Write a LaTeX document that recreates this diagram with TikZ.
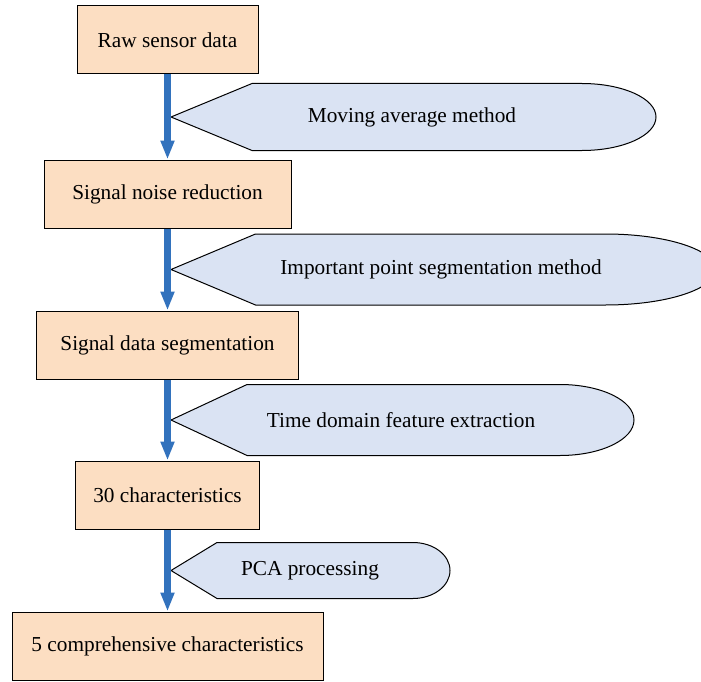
\documentclass[tikz,border=0pt]{standalone}
\usepackage{fontspec}
\setmainfont{Liberation Serif}
\usetikzlibrary{positioning, arrows.meta, calc}
\definecolor{boxfill}{RGB}{252,222,194}
\definecolor{notefill}{RGB}{218,227,243}
\definecolor{flowblue}{RGB}{50,114,189}

\begin{document}
\begin{tikzpicture}[
    x=1pt, y=-1pt,
    font=\fontsize{21.3}{25}\selectfont,
    stage/.style={draw, line width=1pt, fill=boxfill, rectangle, minimum height=68pt, inner sep=0pt},
    note/.style={draw, line width=1pt, fill=notefill, line join=miter},
    arr/.style={-{Triangle[length=19pt, width=13pt]}, line width=6.5pt, flowblue}
]
    \useasboundingbox (0,0) rectangle (701,682);

    \node[stage, minimum width=181pt] (raw) at (167.5,40) {Raw sensor data};
    \node[stage, minimum width=247pt] (noise) [below=85pt of raw] {Signal noise reduction};
    \node[stage, minimum width=262pt] (seg) [below=82pt of noise] {Signal data segmentation};
    \node[stage, minimum width=184pt] (feat) [below=81pt of seg] {30 characteristics};
    \node[stage, minimum width=311pt] (comp) [below=82pt of feat] {5 comprehensive characteristics};

    % side notes, tips touch the arrows
    \coordinate (t1) at ($($(raw.south)!0.5!(noise.north)$)+(3.5,0)$);
    \coordinate (t2) at ($($(noise.south)!0.5!(seg.north)$)+(3.5,0)$);
    \coordinate (t3) at ($($(seg.south)!0.5!(feat.north)$)+(3.5,0)$);
    \coordinate (t4) at ($($(feat.south)!0.5!(comp.north)$)+(3.5,0)$);

    \draw[note] (t1) -- ++(81,-33.5) -- ++(330,0) arc[start angle=-90, end angle=90, x radius=74, y radius=33.5] -- ++(-330,0) -- cycle;
    \draw[note] (t2) -- ++(84.5,-35.5) -- ++(350,0) arc[start angle=-90, end angle=90, x radius=110, y radius=35.5] -- ++(-350,0) -- cycle;
    \draw[note] (t3) -- ++(76,-35.5) -- ++(313,0) arc[start angle=-90, end angle=90, x radius=74, y radius=35.5] -- ++(-313,0) -- cycle;
    \draw[note] (t4) -- ++(46,-28) -- ++(196,0) arc[start angle=-90, end angle=90, x radius=37, y radius=28] -- ++(-196,0) -- cycle;

    \node (n1) at ($(t1)+(241,0)$) {Moving average method};
    \node (n2) at ($(t2)+(270,0)$) {Important point segmentation method};
    \node (n3) at ($(t3)+(230,0)$) {Time domain feature extraction};
    \node (n4) at ($(t4)+(139,0)$) {PCA processing};

    \draw[arr] (raw) -- (noise);
    \draw[arr] (noise) -- (seg);
    \draw[arr] (seg) -- (feat);
    \draw[arr] (feat) -- (comp);
\end{tikzpicture}
\end{document}
